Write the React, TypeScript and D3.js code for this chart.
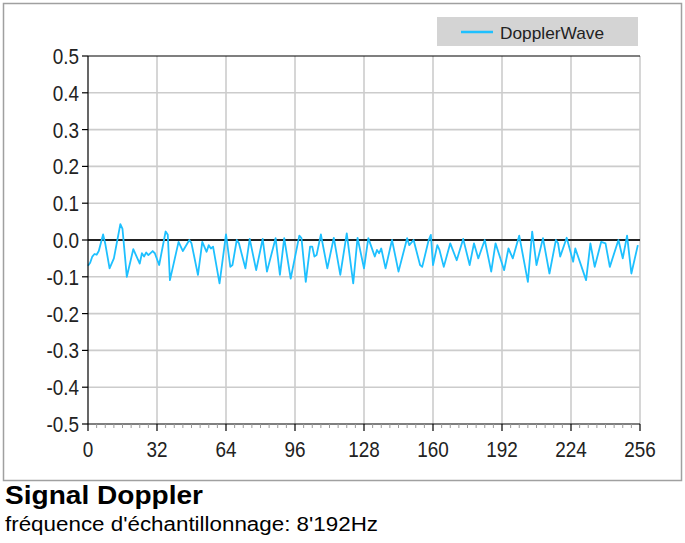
import React from "react";
import * as d3 from "d3";

const sampleIndex = [0,1,2,3,4,5,7,8,10,12,15,16,18,21,24,25,26,27,28,30,31,33,36,37,38,42,44,47,48,51,53,55,56,57,58,61,64,66,67,69,70,73,75,78,81,83,87,89,91,94,98,99,101,103,104,105,106,108,111,114,117,120,123,125,128,130,133,134,135,136,138,141,144,148,149,151,154,155,158,159,160,162,163,165,168,171,174,177,179,181,184,187,189,193,195,197,200,204,206,208,211,214,217,218,219,222,225,226,231,233,235,238,240,242,246,248,250,252,255];
const amplitude = [-0.07,-0.062,-0.045,-0.038,-0.04,-0.03,0.015,-0.01,-0.077,-0.05,0.043,0.03,-0.1,-0.025,-0.064,-0.036,-0.045,-0.034,-0.041,-0.03,-0.036,-0.068,0.023,0.014,-0.109,-0.005,-0.03,0,-0.009,-0.095,-0.005,-0.032,-0.014,-0.023,-0.018,-0.118,0.015,-0.073,-0.068,0,-0.009,-0.077,0.003,-0.082,0.003,-0.086,0.005,-0.095,0.005,-0.105,0.012,0.005,-0.114,-0.018,-0.018,-0.045,-0.041,0.015,-0.077,0.006,-0.095,0.018,-0.118,0.006,-0.077,0.005,-0.045,-0.027,-0.036,-0.023,-0.077,0,-0.086,0.005,-0.014,0,-0.068,-0.073,0,0.014,-0.068,-0.014,-0.027,-0.073,-0.009,-0.055,0.003,-0.068,-0.009,-0.05,0,-0.086,-0.009,-0.082,-0.023,-0.05,0.012,-0.114,0.023,-0.068,0.005,-0.091,0,-0.009,-0.045,0.006,-0.059,-0.023,-0.109,-0.009,-0.073,-0.005,-0.009,-0.073,0,-0.05,0.012,-0.091,-0.014];

const xTicks = [0, 32, 64, 96, 128, 160, 192, 224, 256];
const yTicks = [0.5, 0.4, 0.3, 0.2, 0.1, 0.0, -0.1, -0.2, -0.3, -0.4, -0.5];
const seriesName = "DopplerWave";
const titleText = "Signal Doppler";
const subtitleText = "fréquence d'échantillonnage: 8'192Hz";

const W = 685, H = 543;
const FONT = "'Liberation Sans', Arial, sans-serif";

export default function App() {
  const x = d3.scaleLinear().domain([0, 256]).range([88, 640]);
  const y = d3.scaleLinear().domain([-0.5, 0.5]).range([424, 56]);
  const pts: [number, number][] = sampleIndex.map((i, k) => [i, amplitude[k]]);
  const line = d3.line<[number, number]>().x(d => x(d[0])).y(d => y(d[1]));
  const minor = d3.range(0, 257, 4).filter(v => v % 32 !== 0);
  const fmt = (v: number) => (Math.abs(v) < 1e-9 ? "0.0" : v.toFixed(1));

  return (
    <svg width={W} height={H} style={{ position: "absolute", left: 0, top: 0, background: "#fff" }}>
      <rect x={3.5} y={3.5} width={678} height={477} fill="#fff" stroke="#a0a0a0" strokeWidth={1.5} />
      {xTicks.slice(1).map(t => (
        <line key={"gx" + t} x1={x(t)} x2={x(t)} y1={56} y2={424} stroke="#cccccc" strokeWidth={1.6} />
      ))}
      {yTicks.filter(t => t !== 0 && t !== 0.5 && t !== -0.5).map(t => (
        <line key={"gy" + t} x1={88} x2={640} y1={y(t)} y2={y(t)} stroke="#cccccc" strokeWidth={1.6} />
      ))}
      <line x1={88} x2={640} y1={y(0.5)} y2={y(0.5)} stroke="#000" strokeWidth={1.2} />
      <line x1={88} x2={640} y1={y(0)} y2={y(0)} stroke="#222" strokeWidth={2} />
      <path d={line(pts) || ""} fill="none" stroke="#1ec0ff" strokeWidth={1.8} strokeLinejoin="round" />
      <line x1={88} x2={88} y1={56} y2={424} stroke="#000" strokeWidth={1.2} />
      <line x1={88} x2={640} y1={424} y2={424} stroke="#000" strokeWidth={1.2} />
      {yTicks.map(t => (
        <g key={"yt" + t}>
          <line x1={82} x2={88} y1={y(t)} y2={y(t)} stroke="#000" strokeWidth={1.2} />
          <g transform={`translate(79,${y(t)}) scale(0.86,1)`}>
            <text x={0} y={0} dy="0.36em" textAnchor="end" fontFamily={FONT} fontSize={22} fill="#222">{fmt(t)}</text>
          </g>
        </g>
      ))}
      {minor.map(t => (
        <line key={"mx" + t} x1={x(t)} x2={x(t)} y1={424} y2={428} stroke="#999" strokeWidth={1} />
      ))}
      {xTicks.map(t => (
        <g key={"xt" + t}>
          <line x1={x(t)} x2={x(t)} y1={424} y2={431} stroke="#000" strokeWidth={1.2} />
          <g transform={`translate(${x(t)},457) scale(0.86,1)`}>
            <text x={0} y={0} textAnchor="middle" fontFamily={FONT} fontSize={22} fill="#222">{t}</text>
          </g>
        </g>
      ))}
      <rect x={437} y={17} width={201} height={29} fill="#d4d4d4" />
      <line x1={461} x2={493} y1={32} y2={32} stroke="#1ec0ff" strokeWidth={2.5} />
      <text x={500} y={38.5} fontFamily={FONT} fontSize={17} fill="#222" textLength={104} lengthAdjust="spacingAndGlyphs">{seriesName}</text>
      <text x={5} y={504} fontFamily={FONT} fontSize={25} fontWeight="bold" fill="#000" textLength={198} lengthAdjust="spacingAndGlyphs">{titleText}</text>
      <text x={5} y={531} fontFamily={FONT} fontSize={20} fill="#000" textLength={373} lengthAdjust="spacingAndGlyphs">{subtitleText}</text>
    </svg>
  );
}
